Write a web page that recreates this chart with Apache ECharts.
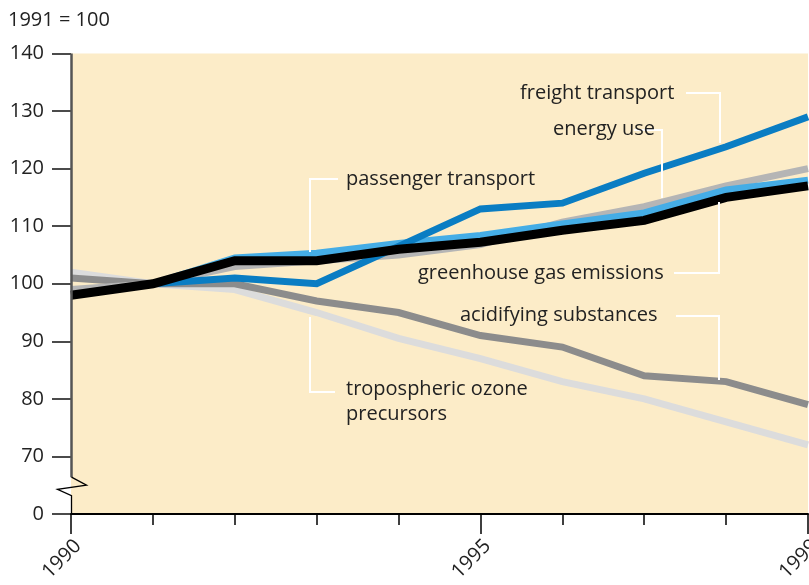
<!DOCTYPE html>
<html>
<head>
<meta charset="utf-8">
<script src="https://cdn.jsdelivr.net/npm/echarts@6/dist/echarts.min.js"></script>
<style>
html,body{margin:0;padding:0;background:#fff;}
#main{width:809px;height:585px;}
</style>
</head>
<body>
<div id="main"></div>
<script>
// ---- data ----
const years = [1990, 1991, 1992, 1993, 1994, 1995, 1996, 1997, 1998, 1999];
const xTickLabels = [1990, 1995, 1999];
const yTickLabels = ['0', '70', '80', '90', '100', '110', '120', '130', '140'];
const troposphericOzone = [102, 100, 99, 95, 90.5, 87, 83, 80, 76, 72];
const acidifying = [101, 100, 100, 97, 95, 91, 89, 84, 83, 79];
const energyUse = [99, 100, 103, 104, 105, 106.8, 110.7, 113.4, 117, 120];
const passengerTransport = [null, 100, 104.5, 105.3, 107, 108.4, 110.4, 112.3, 116.3, 118];
const freightTransport = [null, 100, 101, 100, 106.5, 113, 114, 119.2, 123.8, 129];
const greenhouseGas = [98, 100, 104, 104, 106, 107.2, 109.3, 111, 115, 117];

const FONT = '"Open Sans", sans-serif';
const FS = 20;
const pairs = arr => years.map((y, i) => [y, arr[i]]).filter(p => p[1] !== null);

const chart = echarts.init(document.getElementById('main'), null, {renderer: 'canvas'});

function line(name, arr, color, width) {
  return {
    name, type: 'line', data: pairs(arr), symbol: 'none', xAxisIndex: 0, yAxisIndex: 0,
    lineStyle: {color, width, cap: 'butt', join: 'miter'}, animation: false, silent: true
  };
}

chart.setOption({
  animation: false,
  backgroundColor: '#ffffff',
  grid: {left: 71, right: 1, top: 53.5, bottom: 71, show: true, backgroundColor: '#fcecc8', borderWidth: 0,
    containLabel: false, outerBoundsMode: 'none'},
  xAxis: [{
    type: 'value', min: 1990, max: 1999, interval: 1,
    axisLine: {show: true, lineStyle: {color: '#000', width: 2}},
    axisTick: {show: true, length: 11, lineStyle: {color: '#000', width: 1.5}},
    axisLabel: {show: false}, splitLine: {show: false}
  }, {
    type: 'value', min: 1990, max: 1999, position: 'bottom',
    axisLine: {show: false},
    axisTick: {show: true, length: 20, customValues: xTickLabels, lineStyle: {color: '#000', width: 1.5}},
    axisLabel: {show: true, customValues: xTickLabels, rotate: 45, margin: 36, fontSize: FS,
      fontFamily: FONT, color: '#222', padding: [0, -10, 0, 0], formatter: v => String(v),
      hideOverlap: false},
    splitLine: {show: false}
  }],
  yAxis: {
    type: 'value', min: 60, max: 140, interval: 10,
    axisLine: {show: false},
    axisTick: {show: true, length: 19, lineStyle: {color: '#111', width: 1.5}},
    axisLabel: {fontSize: FS, fontFamily: FONT, color: '#222', margin: 27,
      formatter: v => yTickLabels[Math.round((v - 60) / 10)]},
    splitLine: {show: false}
  },
  series: [
    line('tropospheric ozone precursors', troposphericOzone, '#dcdcdc', 7),
    line('acidifying substances', acidifying, '#8c8c8c', 7),
    line('energy use', energyUse, '#b5b5b5', 7),
    line('passenger transport', passengerTransport, '#45ade6', 7),
    line('freight transport', freightTransport, '#0a7dc3', 7),
    line('greenhouse gas emissions', greenhouseGas, '#000000', 9)
  ]
});

// ---- decorations: broken y axis, annotations ----
const px = (x, y) => chart.convertToPixel({gridIndex: 0}, [x, y]);
const pTop = px(1990, 140), p70 = px(1990, 70), p60 = px(1990, 60);
const ax = pTop[0] + 0.5;
const u = (p60[1] - p70[1]) / 10;
const brk0 = p70[1] + 3.6 * u, brk1 = p70[1] + 5.0 * u, brk2 = p70[1] + 5.7 * u, brk3 = p70[1] + 6.8 * u;

function txt(x, y, s) {
  return {type: 'text', x, y, style: {text: s, fontSize: FS, fontFamily: FONT, fill: '#222',
    textVerticalAlign: 'middle', verticalAlign: 'middle'}, z: 10};
}
function lead(points) {
  return {type: 'polyline', shape: {points}, style: {stroke: '#ffffff', lineWidth: 2, fill: null}, z: 5};
}

chart.setOption({
  graphic: [
    {type: 'polyline', shape: {points: [[ax, pTop[1]], [ax, brk0]]}, style: {stroke: '#555', lineWidth: 2.5, fill: null}, z: 20},
    {type: 'polyline', shape: {points: [[ax, brk0], [ax + 15, brk1], [ax - 14, brk2], [ax, brk3], [ax, p60[1]]]},
      style: {stroke: '#000', lineWidth: 1.3, fill: null}, z: 20},
    txt(8, 20, '1991 = 100'),
    txt(520, 93, 'freight transport'),
    lead([[686, 93], [720, 93], [720, 143]]),
    txt(553, 129, 'energy use'),
    lead([[634, 130], [662, 130], [662, 198]]),
    txt(346, 179, 'passenger transport'),
    lead([[338, 179], [310, 179], [310, 252]]),
    txt(418, 273, 'greenhouse gas emissions'),
    lead([[674, 273], [719, 273], [719, 202]]),
    txt(460, 315, 'acidifying substances'),
    lead([[676, 316], [719, 316], [719, 380]]),
    txt(346, 389, 'tropospheric ozone'),
    txt(346, 414, 'precursors'),
    lead([[310, 317], [310, 392], [335, 392]])
  ]
});
</script>
</body>
</html>
